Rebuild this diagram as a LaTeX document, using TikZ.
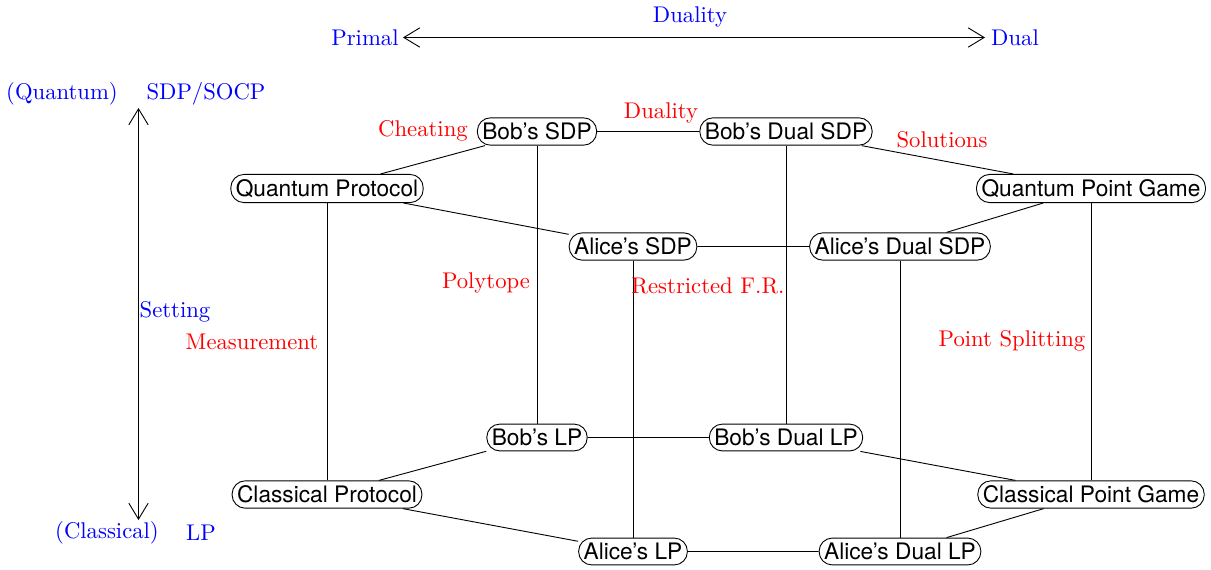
\documentclass[tikz,border=0pt]{standalone}
\usepackage{fontspec}
\setsansfont{TeX Gyre Heros}
\usepackage{tikz}
\usetikzlibrary{arrows.meta}

\begin{document}
\begin{tikzpicture}[x=0.4405pt, y=-0.4405pt]
\useasboundingbox (0,0) rectangle (1211,570);
\tikzstyle{prog} = [draw, rounded corners=5.8pt, inner sep=2.2pt, minimum height=11.75pt, font=\sffamily]
\tikzstyle{redlabel} = [text=red, inner sep=0pt]
\tikzstyle{bluelabel} = [text=blue, inner sep=0pt]
\tikzstyle{axis} = [{Straight Barb[length=7pt,width=8.5pt]}-{Straight Barb[length=7pt,width=8.5pt]}]
% quantum side
\node[prog] (bsdp) at (537,131.5) {Bob’s SDP};
\node[prog] (bdsdp) at (786,131.5) {Bob’s Dual SDP};
\node[prog] (qp) at (327,188.5) {Quantum Protocol};
\node[prog] (qpg) at (1091,188.5) {Quantum Point Game};
\node[prog] (asdp) at (633,246.5) {Alice’s SDP};
\node[prog] (adsdp) at (900,246.5) {Alice’s Dual SDP};
% classical side
\node[prog] (blp) at (537,437.5) {Bob’s LP};
\node[prog] (bdlp) at (786,437.5) {Bob’s Dual LP};
\node[prog] (cp) at (327,494.5) {Classical Protocol};
\node[prog] (cpg) at (1091,494.5) {Classical Point Game};
\node[prog] (alp) at (633,551.5) {Alice’s LP};
\node[prog] (adlp) at (900,551.5) {Alice’s Dual LP};
\draw (bsdp) -- (bdsdp)
	(bsdp) -- (qp)
	(bdsdp) -- (qpg)
	(qp) -- (asdp)
	(qpg) -- (adsdp)
	(asdp) -- (adsdp);
\draw (blp) -- (bdlp)
	(blp) -- (cp)
	(bdlp) -- (cpg)
	(cp) -- (alp)
	(cpg) -- (adlp)
	(alp) -- (adlp);
\draw (bsdp) -- (blp)
	(bdsdp) -- (bdlp)
	(qp) -- (cp)
	(qpg) -- (cpg)
	(asdp) -- (alp)
	(adsdp) -- (adlp);
% edge labels
\node[redlabel] (cheat) at (423,131) {Cheating};
\node[redlabel] (dual) at (661,113) {Duality};
\node[redlabel] (sol) at (942,140) {Solutions};
\node[redlabel] (poly) at (486,283) {Polytope};
\node[redlabel] (rfr) at (708,286) {Restricted F.R.};
\node[redlabel] (meas) at (252,342) {Measurement};
\node[redlabel] (split) at (1012,341) {Point Splitting};
% axes
\node[bluelabel] (primal) at (365,38) {Primal};
\node[bluelabel] (dualend) at (1015,38) {Dual};
\node[bluelabel] (duality) at (690,17) {Duality};
\coordinate (left) at (403,37.5);
\coordinate (right) at (985,37.5);
\draw[axis] (left) -- (right);
\node[bluelabel] (quant) at (62,94) {(Quantum)};
\node[bluelabel] (sdp) at (206,94) {SDP/SOCP};
\node[bluelabel] (class) at (107,533) {(Classical)};
\node[bluelabel] (lp) at (201,533) {LP};
\node[bluelabel] (setting) at (175,312) {Setting};
\coordinate (up) at (138.5,108);
\coordinate (down) at (138.5,520);
\draw[axis] (up) -- (down);
\end{tikzpicture}
\end{document}
